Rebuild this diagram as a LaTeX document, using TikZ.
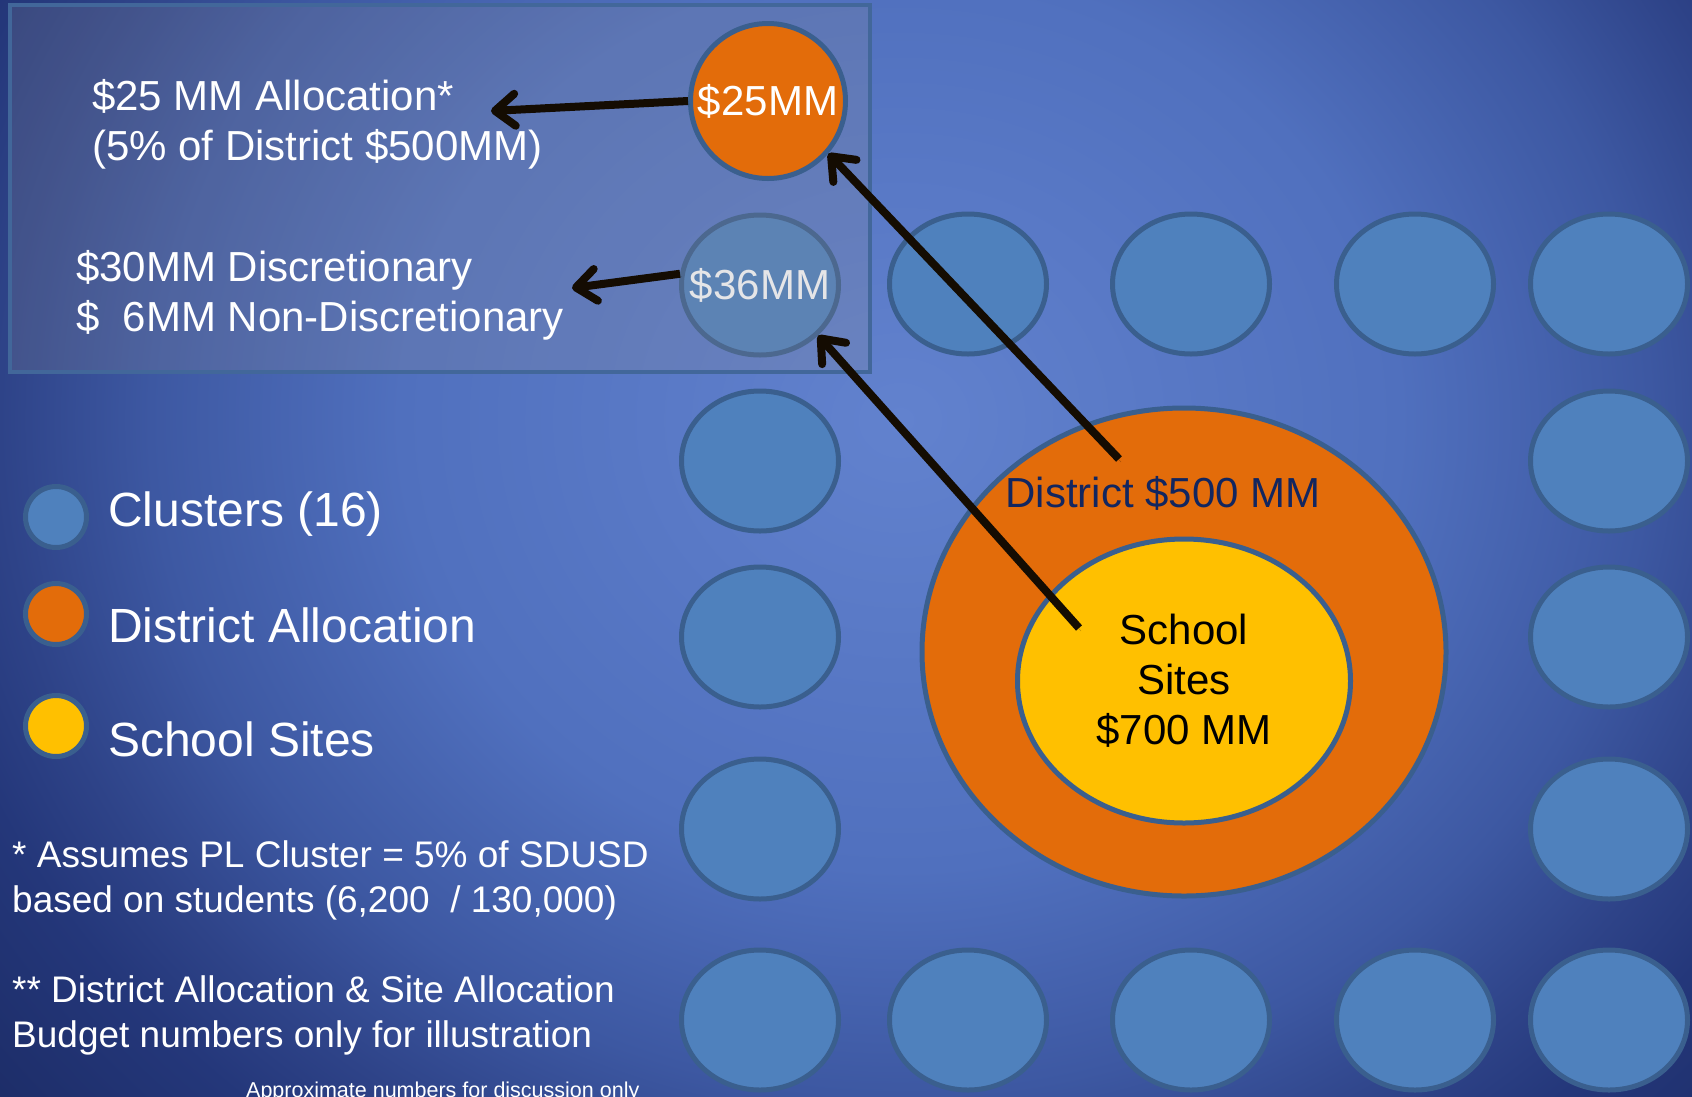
\documentclass[tikz,border=0pt]{standalone}
\usepackage{fontspec}
\setmainfont{Liberation Sans}
\usetikzlibrary{shapes.geometric,arrows.meta}
\definecolor{clfill}{HTML}{4F81BD}
\definecolor{cledge}{HTML}{3A5F8E}
\definecolor{orng}{HTML}{E36C0A}
\definecolor{yell}{HTML}{FFC000}
\definecolor{bgA}{HTML}{6282CE}
\definecolor{bgB}{HTML}{5070BE}
\definecolor{bgC}{HTML}{3D58A2}
\definecolor{bgD}{HTML}{2E4388}
\definecolor{bgE}{HTML}{24377A}
\definecolor{bgF}{HTML}{1C2C66}
\definecolor{navy}{HTML}{12265F}
\definecolor{boxedge}{HTML}{42679A}
\definecolor{boxfill}{HTML}{8C8C96}
\definecolor{arrcol}{HTML}{140C02}
\pgfdeclareradialshading{bgshade}{\pgfpoint{0bp}{0bp}}{color(0bp)=(bgA); color(12.5bp)=(bgB); color(18.75bp)=(bgC); color(22.5bp)=(bgD); color(25bp)=(bgE); color(30bp)=(bgF); color(50bp)=(bgF)}
\tikzset{
  cluster/.style={ellipse, draw=cledge, line width=5pt, fill=clfill, minimum width=157pt, minimum height=140pt, inner sep=0pt},
  legdot/.style={circle, draw=cledge, line width=5pt, minimum size=61pt, inner sep=0pt},
  bigtxt/.style={text=white, font=\fontsize{42}{50}\selectfont, inner sep=0pt, align=left},
  legtxt/.style={text=white, font=\fontsize{48}{56}\selectfont, inner sep=0pt, anchor=west},
  notetxt/.style={text=white, font=\fontsize{37}{45}\selectfont, inner sep=0pt, anchor=west, align=left},
  arr/.style={draw=arrcol, line width=8pt, -{Straight Barb[length=20pt,width=32pt,round]},
    preaction={draw=black, opacity=0.3, transform canvas={shift={(2pt,-3pt)}}}},
}
\begin{document}
\begin{tikzpicture}[x=1pt,y=-1pt]
\clip (0,0) rectangle (1692,1096);
\useasboundingbox (0,0) rectangle (1692,1096);
% background
\fill[bgF] (0,0) rectangle (1692,1096);
\shade[shading=bgshade] (-100,-480) rectangle (1900,1320);

% clusters
\node[cluster, inner xsep=-22pt, text=white, font=\fontsize{42}{50}\selectfont] (c36) at (760,285) {\$36MM};
\node[cluster] (k1) at (968,284) {};
\node[cluster] (k2) at (1191,284) {};
\node[cluster] (k3) at (1415,284) {};
\node[cluster] (k4) at (1609,284) {};
\node[cluster] (k5) at (1609,461) {};
\node[cluster] (k6) at (1609,637) {};
\node[cluster] (k7) at (1609,829) {};
\node[cluster] (k8) at (1609,1020) {};
\node[cluster] (k9) at (1415,1020) {};
\node[cluster] (k10) at (1191,1020) {};
\node[cluster] (k11) at (968,1020) {};
\node[cluster] (k12) at (760,1020) {};
\node[cluster] (k13) at (760,829) {};
\node[cluster] (k14) at (760,637) {};
\node[cluster] (k15) at (760,461) {};

% panel
\node[draw=boxedge, line width=4pt, fill=boxfill, fill opacity=0.22, minimum width=860pt, minimum height=367pt, inner sep=0pt] (panel) at (440,188.5) {};

% $25MM circle
\node[circle, draw=cledge, line width=5pt, fill=orng, minimum size=155pt, inner sep=0pt, text=white, font=\fontsize{42}{50}\selectfont] (c25) at (768,101) {\$25MM};

% panel texts
\node[bigtxt, anchor=west] (t25) at (92,124) {\$25 MM Allocation*\\(5\% of District \$500MM)};
\node[bigtxt, anchor=west] (t36) at (76,295) {\$30MM Discretionary\\\$\ \ 6MM Non-Discretionary};

% district and school sites
\node[ellipse, draw=cledge, line width=5pt, fill=orng, minimum width=524pt, minimum height=488pt, inner sep=0pt] (dist) at (1184,652) {};
\node[ellipse, draw=cledge, line width=5pt, fill=yell, minimum width=333pt, minimum height=284pt, inner sep=0pt, align=center, font=\fontsize{42}{50}\selectfont, text=black] (sites) at (1184,681) {School\\Sites\\\$700 MM};
\node[text=navy, font=\fontsize{42}{50}\selectfont, inner sep=0pt] (distlbl) at (1163,493) {District \$500 MM};

% legend
\node[legdot, fill=clfill] (lg1) at (56,517) {};
\node[legdot, fill=orng] (lg2) at (56,614) {};
\node[legdot, fill=yell] (lg3) at (56,726) {};
\node[legtxt] (lt1) at (108,514) {Clusters (16)};
\node[legtxt] (lt2) at (108,625) {District Allocation};
\node[legtxt] (lt3) at (108,739) {School Sites};

% notes
\node[notetxt] (n1) at (12,880) {* Assumes PL Cluster = 5\% of SDUSD\\based on students (6,200~ / 130,000)};
\node[notetxt] (n2) at (12,1015) {** District Allocation \& Site Allocation\\Budget numbers only for illustration};
\node[text=white, font=\fontsize{21.5}{26}\selectfont, inner sep=0pt, anchor=base west] (n3) at (246,1097) {Approximate numbers for discussion only};

% arrows
\coordinate (a1e) at (491,111);
\coordinate (a2e) at (572,288);
\coordinate (a3s) at (1119,459);
\coordinate (a4s) at (1079,628);
\draw[arr] (c25.west) -- (a1e);
\draw[arr] (c36.172) -- (a2e);
\draw[arr] (a3s) -- (c25.-41);
\draw[arr] (a4s) -- (c36.-41);
\end{tikzpicture}
\end{document}
